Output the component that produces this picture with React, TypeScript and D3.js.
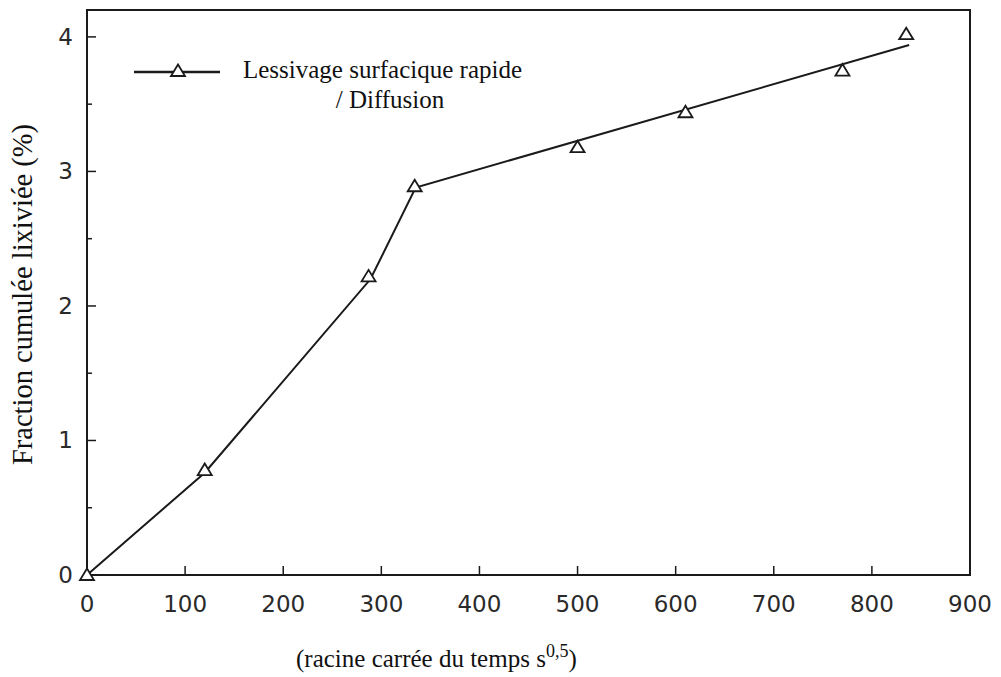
import React from "react";
import * as d3 from "d3";

// measured points (triangles)
const pointX = [0, 120, 287, 334, 500, 610, 770, 835];
const pointY = [0, 0.78, 2.22, 2.89, 3.18, 3.44, 3.75, 4.02];

// fitted line (rapid surface leaching, then diffusion)
const lineX = [0, 120, 289, 335, 838];
const lineY = [0, 0.76, 2.2, 2.88, 3.94];

const xTicks = [0, 100, 200, 300, 400, 500, 600, 700, 800, 900];
const yTicks = [0, 1, 2, 3, 4];
const yMinorTicks = [0.5, 1.5, 2.5, 3.5];

const W = 1001;
const H = 677;
const margin = { top: 10, right: 31, bottom: 102, left: 87 };

const ink = "#1a1a1a";
const serif = "'Liberation Serif', 'Times New Roman', serif";
const sans = "'DejaVu Sans', 'Liberation Sans', sans-serif";

function triangle(cx: number, cy: number) {
  return `M${cx},${cy - 6.5}L${cx + 7},${cy + 5}L${cx - 7},${cy + 5}Z`;
}

export default function App() {
  const x = d3.scaleLinear().domain([0, 900]).range([margin.left, W - margin.right]);
  const y = d3.scaleLinear().domain([0, 4.2]).range([H - margin.bottom, margin.top]);

  const linePts = lineX.map((v, i) => [v, lineY[i]] as [number, number]);
  const line = d3
    .line<[number, number]>()
    .x((d) => x(d[0]))
    .y((d) => y(d[1]));

  const x0 = x(0);
  const y0 = y(0);

  return (
    <svg
      width={W}
      height={H}
      style={{ position: "absolute", left: 0, top: 0, background: "#fff" }}
    >
      {/* frame */}
      <rect
        x={x0}
        y={margin.top}
        width={x(900) - x0}
        height={y0 - margin.top}
        fill="none"
        stroke={ink}
        strokeWidth={2}
      />

      {/* x ticks */}
      {xTicks.map((t) => (
        <g key={"x" + t}>
          {t > 0 && t < 900 && (
            <line x1={x(t)} x2={x(t)} y1={y0} y2={y0 - 9} stroke={ink} strokeWidth={1.5} />
          )}
          <text
            x={x(t)}
            y={y0 + 37}
            textAnchor="middle"
            fontFamily={sans}
            fontSize={23}
            fill="#2a2a2a"
          >
            {t}
          </text>
        </g>
      ))}

      {/* y ticks */}
      {yTicks.map((t) => (
        <g key={"y" + t}>
          {t > 0 && (
            <line x1={x0} x2={x0 + 9} y1={y(t)} y2={y(t)} stroke={ink} strokeWidth={1.5} />
          )}
          <text
            x={x0 - 14}
            y={y(t) + 8}
            textAnchor="end"
            fontFamily={sans}
            fontSize={23}
            fill="#2a2a2a"
          >
            {t}
          </text>
        </g>
      ))}
      {yMinorTicks.map((t) => (
        <line key={"m" + t} x1={x0} x2={x0 + 5} y1={y(t)} y2={y(t)} stroke={ink} strokeWidth={1.5} />
      ))}

      {/* fitted line */}
      <path d={line(linePts) ?? ""} fill="none" stroke={ink} strokeWidth={2} />

      {/* data markers */}
      {pointX.map((v, i) => (
        <path
          key={"p" + i}
          d={triangle(x(v), y(pointY[i]))}
          fill="#fff"
          stroke={ink}
          strokeWidth={1.8}
        />
      ))}

      {/* legend */}
      <line x1={134} x2={220} y1={72} y2={72} stroke={ink} strokeWidth={2.5} />
      <path d={triangle(178, 71)} fill="#fff" stroke={ink} strokeWidth={1.8} />
      <text x={243} y={78} fontFamily={serif} fontSize={25} fill="#111">
        Lessivage surfacique rapide
      </text>
      <text x={390} y={108} textAnchor="middle" fontFamily={serif} fontSize={25} fill="#111">
        / Diffusion
      </text>

      {/* axis titles */}
      <text
        transform={`translate(32,${(y0 + margin.top) / 2 + 2}) rotate(-90)`}
        textAnchor="middle"
        fontFamily={serif}
        fontSize={28.5}
        fill="#111"
      >
        Fraction cumulée lixiviée (%)
      </text>
      <text x={296} y={667} fontFamily={serif} fontSize={25} fill="#111">
        (racine carrée du temps s
        <tspan dy={-10} fontSize={18}>0,5</tspan>
        <tspan dy={10}>)</tspan>
      </text>
    </svg>
  );
}
